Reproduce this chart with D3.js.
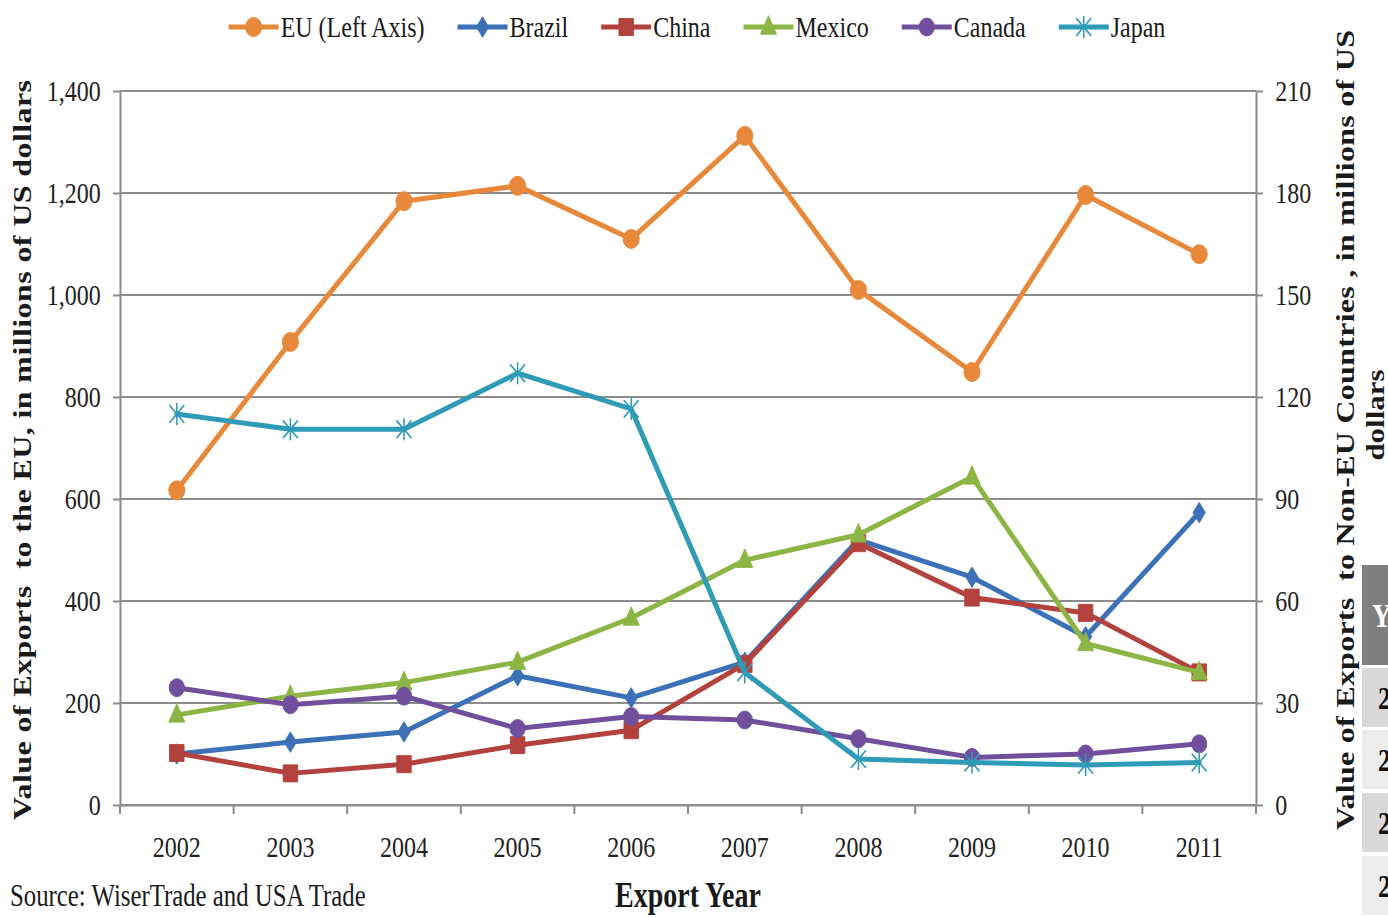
<!DOCTYPE html>
<html><head><meta charset="utf-8">
<script src="https://cdn.jsdelivr.net/npm/d3@7"></script>
<style>body{margin:0;background:#fff;overflow:hidden} svg{display:block}</style>
</head><body>
<svg id="chart" width="1388" height="917"></svg>
<script>
// ---------- data ----------
const years = ["2002","2003","2004","2005","2006","2007","2008","2009","2010","2011"];
const euValues     = [617, 908, 1184, 1214, 1110, 1312, 1010, 849, 1196, 1080]; // left axis
const brazilValues = [15, 18.5, 21.5, 38, 31.5, 42, 78, 67, 49.5, 86];          // right axis
const chinaValues  = [15.3, 9.3, 12, 17.6, 22, 41.5, 77, 61, 56.5, 39];
const mexicoValues = [26.5, 32, 36, 42, 55, 72, 79.5, 96.5, 47.5, 39];
const canadaValues = [34.5, 29.5, 32, 22.5, 26, 25, 19.5, 14, 15, 18];
const japanValues  = [115, 110.5, 110.5, 127, 116.5, 39, 13.5, 12.5, 11.8, 12.5];
const leftTicks  = [0, 200, 400, 600, 800, 1000, 1200, 1400];
const rightTicks = [0, 30, 60, 90, 120, 150, 180, 210];
const seriesNames = ["EU (Left Axis)", "Brazil", "China", "Mexico", "Canada", "Japan"];
const tableRowLabels = ["2", "2", "2", "2"];

// ---------- layout ----------
const m = {left: 120, right: 1256, top: 91, bottom: 805};
const SX = 0.8;
const FONT = "'Liberation Serif','Times New Roman',serif";
const GRID = "#8c8c8c";
const svg = d3.select("#chart");

const x  = d3.scaleBand().domain(years).range([m.left, m.right]);
const yL = d3.scaleLinear().domain([0, 1400]).range([m.bottom, m.top]);
const yR = d3.scaleLinear().domain([0, 210]).range([m.bottom, m.top]);
const cx = d => x(d) + x.bandwidth() / 2;

// ---------- marker shapes ----------
const shapes = {
  circle:   {draw(c, r){ c.arc(0, 0, r, 0, 2*Math.PI); }},
  diamond:  {draw(c, r){ c.moveTo(0,-r*1.2); c.lineTo(r*0.85,0); c.lineTo(0,r*1.2); c.lineTo(-r*0.85,0); c.closePath(); }},
  square:   {draw(c, r){ c.rect(-r, -r, 2*r, 2*r); }},
  triangle: {draw(c, r){ c.moveTo(0,-r*1.25); c.lineTo(r*1.05,r*0.8); c.lineTo(-r*1.05,r*0.8); c.closePath(); }},
  star:     {draw(c, r){ c.moveTo(0,-r); c.lineTo(0,r); c.moveTo(-r*0.8,-r*0.8); c.lineTo(r*0.8,r*0.8); c.moveTo(-r*0.8,r*0.8); c.lineTo(r*0.8,-r*0.8); }}
};

const series = [
  {name: seriesNames[0], values: euValues,     y: yL, color: "#E8883A", shape: "circle",   r: 9.5},
  {name: seriesNames[1], values: brazilValues, y: yR, color: "#3C71B7", shape: "diamond",  r: 8.5},
  {name: seriesNames[2], values: chinaValues,  y: yR, color: "#B3413E", shape: "square",   r: 8.5},
  {name: seriesNames[3], values: mexicoValues, y: yR, color: "#8CB545", shape: "triangle", r: 9},
  {name: seriesNames[4], values: canadaValues, y: yR, color: "#70509C", shape: "circle",   r: 9},
  {name: seriesNames[5], values: japanValues,  y: yR, color: "#2F9BB6", shape: "star",     r: 11}
];

function drawMarker(g, s, px, py) {
  const p = d3.symbol().type(shapes[s.shape]).size(s.r)();
  const el = g.append("path").attr("d", p)
    .attr("transform", `translate(${px},${py}) scale(0.85,1)`);
  if (s.shape === "star") el.attr("fill", "none").attr("stroke", s.color).attr("stroke-width", 1.8);
  else el.attr("fill", s.color).attr("stroke", s.color).attr("stroke-width", 1);
}

function addText(parent, px, py, str, opts = {}) {
  const g = parent.append("g")
    .attr("transform", `translate(${px},${py}) scale(${SX},1)` + (opts.rotate ? ` rotate(${opts.rotate})` : ""));
  const t = g.append("text").text(str)
    .attr("font-family", FONT)
    .attr("font-size", opts.size || 30)
    .attr("font-weight", opts.bold ? "bold" : "normal")
    .attr("fill", opts.fill || "#1a1a1a")
    .attr("text-anchor", opts.anchor || "start")
    .style("white-space", "pre");
  if (opts.dy) t.attr("dy", opts.dy);
  if (opts.length) t.attr("textLength", opts.length).attr("lengthAdjust", "spacing");
  return t;
}

// ---------- gridlines ----------
svg.append("g").selectAll("line").data(leftTicks).join("line")
  .attr("x1", m.left).attr("x2", m.right)
  .attr("y1", d => yL(d)).attr("y2", d => yL(d))
  .attr("stroke", GRID).attr("stroke-width", 2);

// ---------- axes ----------
const axL = svg.append("g").attr("transform", `translate(${m.left},0)`)
  .call(d3.axisLeft(yL).tickValues(leftTicks).tickSize(7).tickSizeOuter(0).tickFormat(d3.format(",")));
const axR = svg.append("g").attr("transform", `translate(${m.right},0)`)
  .call(d3.axisRight(yR).tickValues(rightTicks).tickSize(7).tickSizeOuter(0));
const axB = svg.append("g").attr("transform", `translate(0,${m.bottom})`)
  .call(d3.axisBottom(x).tickSize(0).tickSizeOuter(0));

[axL, axR, axB].forEach(a => {
  a.select(".domain").attr("stroke", GRID).attr("stroke-width", 2);
  a.selectAll(".tick line").attr("stroke", GRID).attr("stroke-width", 2);
  a.selectAll(".tick text").attr("font-family", FONT).attr("font-size", 30).attr("fill", "#222");
});
axL.selectAll(".tick text").attr("x", -24).attr("dy", "0.33em").attr("transform", `scale(${SX},1)`);
axR.selectAll(".tick text").attr("x", 24).attr("dy", "0.33em").attr("transform", `scale(${SX},1)`);
axB.selectAll(".tick text").attr("y", 52).attr("dy", 0).attr("transform", `scale(${SX},1)`);

// category boundary ticks on x axis
const bounds = years.map(d => x(d)).concat([m.right]);
svg.append("g").selectAll("line").data(bounds).join("line")
  .attr("x1", d => d).attr("x2", d => d)
  .attr("y1", m.bottom).attr("y2", m.bottom + 9)
  .attr("stroke", GRID).attr("stroke-width", 2);

// ---------- series ----------
series.forEach(s => {
  const g = svg.append("g");
  const line = d3.line().x((d, i) => cx(years[i])).y(d => s.y(d));
  g.append("path").datum(s.values).attr("d", line)
    .attr("fill", "none").attr("stroke", s.color).attr("stroke-width", 5)
    .attr("stroke-linejoin", "round").attr("stroke-linecap", "round");
  s.values.forEach((v, i) => drawMarker(g, s, cx(years[i]), s.y(v)));
});

// ---------- legend ----------
const legend = svg.append("g");
let lx = 0;
series.forEach(s => {
  const g = legend.append("g").attr("transform", `translate(${lx},0)`);
  g.append("line").attr("x1", 0).attr("x2", 50).attr("y1", 0).attr("y2", 0)
    .attr("stroke", s.color).attr("stroke-width", 5);
  drawMarker(g, s, 25, 0);
  const t = addText(g, 52, 0, s.name, {size: 30, dy: "0.33em"});
  const w = t.node().getComputedTextLength() * SX;
  lx += 52 + w + 33;
});
legend.attr("transform", `translate(${697 - (lx - 33) / 2},27)`);

// ---------- titles ----------
addText(svg, 22, 450, "Value of Exports  to the EU, in millions of US dollars",
  {size: 32, bold: true, anchor: "middle", rotate: -90, dy: "0.35em", length: 740});
addText(svg, 1345, 430, "Value of Exports  to Non-EU Countries , in millions of US",
  {size: 32, bold: true, anchor: "middle", rotate: -90, dy: "0.35em", length: 800});
addText(svg, 1375, 415, "dollars",
  {size: 31, bold: true, anchor: "middle", rotate: -90, dy: "0.35em"});
addText(svg, 688, 907, "Export Year", {size: 35, bold: true, anchor: "middle"});
addText(svg, 10, 906, "Source: WiserTrade and USA Trade", {size: 31});

// ---------- clipped table fragment at right edge ----------
const tbl = svg.append("g");
tbl.append("rect").attr("x", 1362).attr("y", 565).attr("width", 40).attr("height", 100).attr("fill", "#7f7f7f");
addText(tbl, 1372, 615, "Y", {size: 34, bold: true, fill: "#fff", dy: "0.35em"});
const rowTops = [668, 730, 793, 856];
const rowFills = ["#d9d9d9", "#ececec", "#d9d9d9", "#ececec"];
tableRowLabels.forEach((lab, i) => {
  tbl.append("rect").attr("x", 1362).attr("y", rowTops[i]).attr("width", 40).attr("height", 59).attr("fill", rowFills[i]);
  addText(tbl, 1378, rowTops[i] + 30, lab, {size: 32, bold: true, fill: "#111", dy: "0.35em"});
});
</script>
</body></html>
